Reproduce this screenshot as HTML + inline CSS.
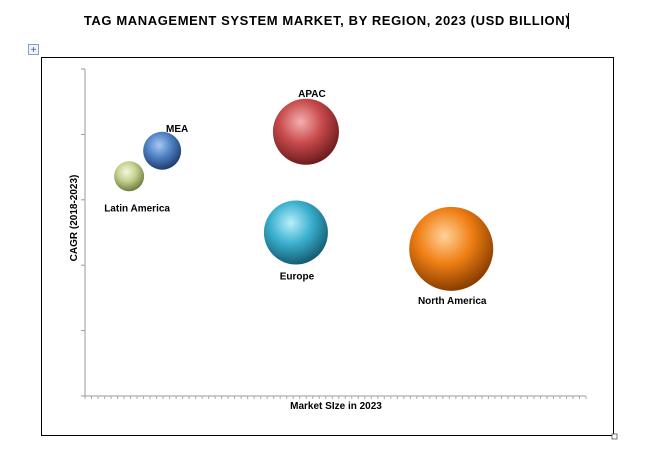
<!DOCTYPE html>
<html><head><meta charset="utf-8"><style>
body{margin:0;background:#fff;width:654px;height:451px;overflow:hidden;font-family:"Liberation Sans",sans-serif}
svg{display:block}
</style></head><body>
<svg id="c" width="654" height="451">
<defs>
<radialGradient id="g0" cx="0.42" cy="0.35" r="0.65"><stop offset="0" stop-color="#f4f8dc"/><stop offset="0.5" stop-color="#c2d08e"/><stop offset="1" stop-color="#6f7d40"/></radialGradient>
<radialGradient id="g1" cx="0.42" cy="0.35" r="0.65"><stop offset="0" stop-color="#a9c8f0"/><stop offset="0.5" stop-color="#4f81c4"/><stop offset="1" stop-color="#1f3f70"/></radialGradient>
<radialGradient id="g2" cx="0.42" cy="0.35" r="0.65"><stop offset="0" stop-color="#f4b0b0"/><stop offset="0.5" stop-color="#c84a4c"/><stop offset="1" stop-color="#6e1c1e"/></radialGradient>
<radialGradient id="g3" cx="0.42" cy="0.35" r="0.65"><stop offset="0" stop-color="#b8f0fa"/><stop offset="0.5" stop-color="#3bb0cf"/><stop offset="1" stop-color="#155e74"/></radialGradient>
<radialGradient id="g4" cx="0.42" cy="0.35" r="0.65"><stop offset="0" stop-color="#ffd29a"/><stop offset="0.5" stop-color="#f07f14"/><stop offset="1" stop-color="#8a3e00"/></radialGradient>
</defs>
<text x="327" y="25" text-anchor="middle" font-size="13" font-weight="bold" letter-spacing="0.6">TAG MANAGEMENT SYSTEM MARKET, BY REGION, 2023 (USD BILLION)</text>
<line x1="568.5" y1="13" x2="568.5" y2="29" stroke="#000"/>
<g><rect x="28.5" y="44.5" width="10" height="10" fill="#eef2fa" stroke="#8aa0c8"/><text x="33.5" y="53" text-anchor="middle" font-size="10" fill="#3a5a9a">+</text></g>
<rect x="41.5" y="57.5" width="572" height="378" fill="none" stroke="#000"/>
<rect x="612" y="434" width="5" height="5" fill="#fff" stroke="#555" stroke-width="0.8"/>
<g id="axes"></g>
<g id="bubbles"></g>
<text x="0" y="0" transform="translate(77,218) rotate(-90)" text-anchor="middle" font-size="10" font-weight="bold">CAGR (2018-2023)</text>
<text x="336" y="409" text-anchor="middle" font-size="10" font-weight="bold">Market SIze in 2023</text>
</svg>
<script>
const regions=["Latin America","MEA","APAC","Europe","North America"];
const marketSize=[8.8,15.4,44.1,42.1,73.1];
const cagr=[3.36,3.75,4.04,2.50,2.25];
const bubbleSize=[2.25,3.61,10.89,10.24,17.64];
const yTicks=[0,1,2,3,4,5];
const ns="http://www.w3.org/2000/svg";
const X0=85,X1=586,Y0=396,Y1=69;
const xs=v=>X0+(v/100)*(X1-X0);
const ys=v=>Y0-(v/5)*(Y0-Y1);
const rs=s=>10*Math.sqrt(s);
const ax=document.getElementById('axes');
function mk(t,a,p){const e=document.createElementNS(ns,t);for(const k in a)e.setAttribute(k,a[k]);(p||ax).appendChild(e);return e;}
const ya=mk('line',{x1:X0,y1:Y1,x2:X0,y2:Y0,stroke:'#999'});


yTicks.forEach(t=>{const l=mk('line',{x1:X0-4,x2:X0,y1:ys(t),y2:ys(t),stroke:'#999'});

});
const xa=mk('line',{x1:X0,y1:Y0,x2:X1,y2:Y0,stroke:'#999'});


for(let i=0;i<=77;i++){const x=X0+i*(X1-X0)/77;const l=mk('line',{x1:x,x2:x,y1:Y0,y2:Y0+3,stroke:'#aaa'});

}
const bg=document.getElementById('bubbles');
const labOff=[[8,31,'middle'],[15,-23,'middle'],[6,-39,'middle'],[1,43,'middle'],[1,51,'middle']];
regions.forEach((n,i)=>{
const cx=xs(marketSize[i]),cy=ys(cagr[i]),r=rs(bubbleSize[i]);
const c=mk('circle',{cx:cx,cy:cy,r:r,fill:'url(#g'+i+')'},bg);


const t=mk('text',{x:cx+labOff[i][0],y:cy+labOff[i][1]+4,'text-anchor':labOff[i][2],'font-size':10,'font-weight':'bold'},bg);
t.textContent=n;


});
</script>
</body></html>
